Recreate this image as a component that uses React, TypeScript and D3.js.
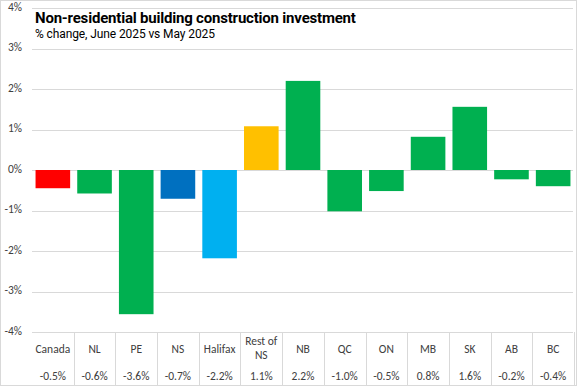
import { useEffect, useRef } from 'react';
import * as d3 from 'd3';

// Data
const categories = ['Canada', 'NL', 'PE', 'NS', 'Halifax', 'Rest of NS', 'NB', 'QC', 'ON', 'MB', 'SK', 'AB', 'BC'];
const values = [-0.45, -0.58, -3.56, -0.71, -2.18, 1.08, 2.2, -1.02, -0.52, 0.82, 1.56, -0.23, -0.4];
const valueLabels = ['-0.5%', '-0.6%', '-3.6%', '-0.7%', '-2.2%', '1.1%', '2.2%', '-1.0%', '-0.5%', '0.8%', '1.6%', '-0.2%', '-0.4%'];
const barColors = ['#FF0000', '#00B050', '#00B050', '#0070C0', '#00B0F0', '#FFC000', '#00B050', '#00B050', '#00B050', '#00B050', '#00B050', '#00B050', '#00B050'];
const yTicks = [-4, -3, -2, -1, 0, 1, 2, 3, 4];

const WIDTH = 577;
const HEIGHT = 386;
const PLOT = { left: 32, right: 574, top: 8, bottom: 332 };
const TABLE_BOTTOM = 385;
const FONT = 'Carlito, "Liberation Sans", Arial, sans-serif';
const TITLE_FONT = 'Roboto, "Liberation Sans", sans-serif';
const TEXT = '#404040';
const GRID = '#D9D9D9';

export default function App() {
  const svgRef = useRef<SVGSVGElement>(null);

  useEffect(() => {
    if (!svgRef.current) return;
    const svg = d3.select(svgRef.current);
    svg.selectAll('*').remove();

    const x = d3.scaleBand<string>().domain(categories).range([PLOT.left, PLOT.right]).paddingInner(0.17).paddingOuter(0.085);
    const xCol = d3.scaleBand<string>().domain(categories).range([PLOT.left, PLOT.right]);
    const y = d3.scaleLinear().domain([-4, 4]).range([PLOT.bottom, PLOT.top]);

    // background + frame
    svg.append('rect')
      .attr('x', 0.5).attr('y', 0.5)
      .attr('width', WIDTH - 1).attr('height', HEIGHT - 1)
      .attr('fill', '#fff').attr('stroke', GRID);

    // Grid lines
    svg.append('g')
      .selectAll('line')
      .data(yTicks)
      .enter()
      .append('line')
      .attr('x1', PLOT.left)
      .attr('x2', PLOT.right - 1)
      .attr('y1', (d) => Math.round(y(d)) + 0.5)
      .attr('y2', (d) => Math.round(y(d)) + 0.5)
      .attr('stroke', GRID)
      .attr('stroke-width', 1);

    // Y tick labels
    svg.append('g')
      .selectAll('text')
      .data(yTicks)
      .enter()
      .append('text')
      .attr('x', 22)
      .attr('y', (d) => y(d) + 2.5)
      .attr('text-anchor', 'end')
      .attr('fill', TEXT)
      .attr('font-family', FONT)
      .attr('font-size', '11.5px')
      .text((d) => `${d}%`);

    // Bars
    svg.append('g')
      .selectAll('rect')
      .data(values)
      .enter()
      .append('rect')
      .attr('x', (_, i) => x(categories[i]) as number)
      .attr('width', x.bandwidth())
      .attr('y', (d) => y(Math.max(0, d)))
      .attr('height', (d) => Math.abs(y(d) - y(0)))
      .attr('fill', (_, i) => barColors[i]);

    // Data table lines
    const table = svg.append('g');
    categories.forEach((c, i) => {
      if (i === 0) return;
      const xx = Math.round(xCol(c) as number) + 0.5;
      table.append('line')
        .attr('x1', xx).attr('x2', xx)
        .attr('y1', PLOT.bottom).attr('y2', TABLE_BOTTOM)
        .attr('stroke', GRID);
    });
    table.append('line')
      .attr('x1', PLOT.right + 0.5).attr('x2', PLOT.right + 0.5)
      .attr('y1', PLOT.bottom).attr('y2', TABLE_BOTTOM)
      .attr('stroke', GRID);
    table.append('line')
      .attr('x1', 0).attr('x2', PLOT.right)
      .attr('y1', TABLE_BOTTOM + 0.5).attr('y2', TABLE_BOTTOM + 0.5)
      .attr('stroke', GRID);

    // Category labels + values
    categories.forEach((c, i) => {
      const cx = (xCol(c) as number) + xCol.bandwidth() / 2;
      const t = table.append('text')
        .attr('x', cx)
        .attr('text-anchor', 'middle')
        .attr('fill', TEXT)
        .attr('font-family', FONT)
        .attr('font-size', '11.5px');
      if (c === 'Rest of NS') {
        t.append('tspan').attr('x', cx).attr('y', 345).text('Rest of');
        t.append('tspan').attr('x', cx).attr('y', 359).text('NS');
      } else {
        t.attr('y', 353).text(c);
      }
      table.append('text')
        .attr('x', cx)
        .attr('y', 380)
        .attr('text-anchor', 'middle')
        .attr('fill', TEXT)
        .attr('font-family', FONT)
        .attr('font-size', '11.5px')
        .text(valueLabels[i]);
    });

    // Title
    svg.append('text')
      .attr('x', 35).attr('y', 23)
      .attr('fill', '#000')
      .attr('font-family', TITLE_FONT)
      .attr('font-weight', 'bold')
      .attr('font-size', '15px')
      .attr('letter-spacing', '-0.2px')
      .text('Non-residential building construction investment');
    svg.append('text')
      .attr('x', 35).attr('y', 38)
      .attr('fill', '#000')
      .attr('font-family', TITLE_FONT)
      .attr('font-size', '12px')
      .attr('letter-spacing', '-0.1px')
      .text('% change, June 2025 vs May 2025');
  }, []);

  return (
    <svg
      ref={svgRef}
      width={WIDTH}
      height={HEIGHT}
      style={{ position: 'absolute', left: 0, top: 0, display: 'block' }}
    />
  );
}
